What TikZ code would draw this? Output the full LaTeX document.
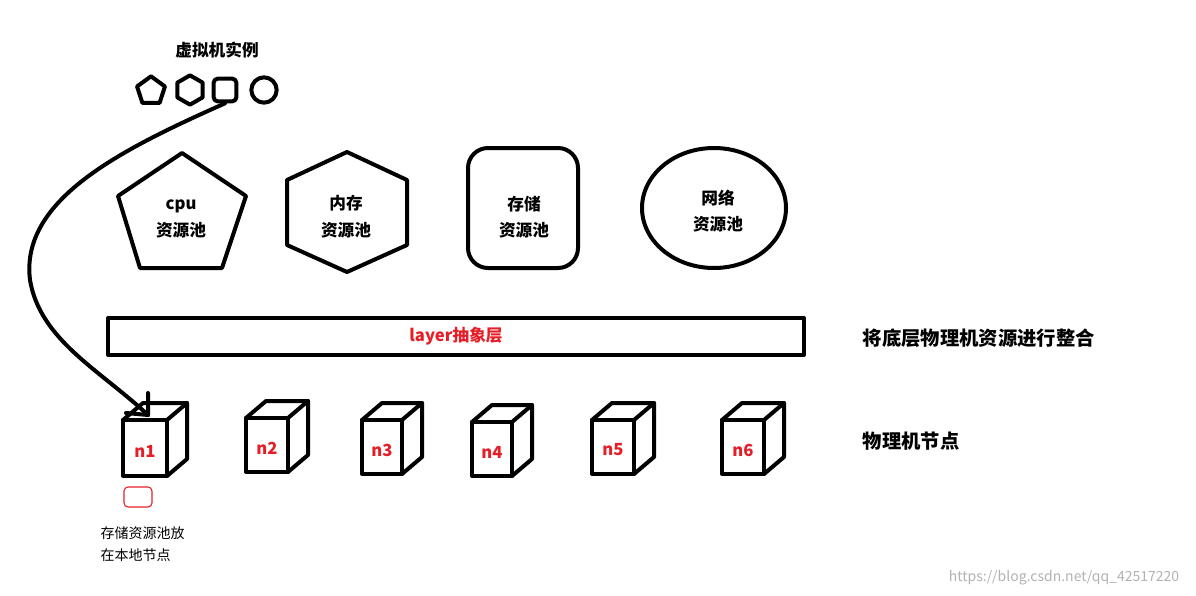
\documentclass[tikz,border=0pt]{standalone}
\usepackage{fontspec}
\setmainfont{Noto Sans CJK SC}
\usetikzlibrary{shapes.geometric,arrows.meta}
\definecolor{lbl}{RGB}{230,30,40}
\tikzset{
  thk/.style={line width=3pt,line join=round,line cap=round},
  bt/.style={font=\bfseries\fontsize{12.5}{14}\selectfont,align=center},
  nl/.style={font=\bfseries\fontsize{12.5}{14}\selectfont,text=lbl},
}
\newcommand{\cube}[5]{% name, left, top, w, h
  \draw[thk] (#2,#3) rectangle ++(#4,#5);
  \draw[thk] (#2,#3) -- ++(20,-17) -- ++(#4,0) -- ++(0,#5) -- ++(-20,17);
  \draw[thk] (#2+#4,#3) -- ++(20,-17);
  \node[nl] (#1) at (#2+#4/2,#3+#5/2+3) {#1};
}
\begin{document}
\begin{tikzpicture}[x=0.75pt,y=-0.75pt]
\useasboundingbox (0,0) rectangle (1196,596);
\node[bt] (vmt) at (217,50) {虚拟机实例};
\node[draw,thk,regular polygon,regular polygon sides=5,minimum size=22,inner sep=0] (ip) at (151,91) {};
\node[draw,thk,regular polygon,regular polygon sides=6,shape border rotate=30,minimum size=22,inner sep=0] (ih) at (190,90) {};
\node[draw,thk,rounded corners=3,minimum size=17,inner sep=0] (is) at (225,90) {};
\node[draw,thk,circle,minimum size=19,inner sep=0] (ic) at (264,90) {};
% pools
\draw[thk] (182,153) -- (246,196) -- (222,268) -- (140,268) -- (118,196) -- cycle;
\node[bt] (cpu) at (181,219) {cpu\\[6pt]资源池};
\draw[thk] (347,152) -- (407,180) -- (407,245) -- (347,272) -- (287,245) -- (287,180) -- cycle;
\node[bt] (mem) at (346,217) {内存\\[6pt]资源池};
\draw[thk,rounded corners=15] (468,148) rectangle (578,268);
\node[bt] (sto) at (524,217) {存储\\[6pt]资源池};
\draw[thk] (714,208) ellipse [x radius=72,y radius=60];
\node[bt] (net) at (718,211) {网络\\[6pt]资源池};
% layer
\draw[thk] (108,318) rectangle (804,355);
\node[bt,text=lbl] (layer) at (456,336) {layer抽象层};
\node[bt,anchor=west,font=\bfseries\fontsize{14.5}{16}\selectfont] (r1) at (858,338) {将底层物理机资源进行整合};
\node[bt,anchor=west,font=\bfseries\fontsize{14.5}{16}\selectfont] (r2) at (858,441) {物理机节点};
% cubes
\cube{n1}{123}{420}{44}{56}
\cube{n2}{246}{418}{42}{54}
\cube{n3}{362}{420}{40}{54}
\cube{n4}{472}{422}{40}{54}
\cube{n5}{592}{420}{42}{54}
\cube{n6}{722}{420}{42}{54}
% arrow
\coordinate (tip) at (148,415);
\draw[thk] (is.south) .. controls (120,150) and (20,200) .. (30,280) .. controls (40,340) and (100,370) .. (tip);
\draw[thk] (148,393) -- (tip) -- (126,413);
\draw[lbl,rounded corners=3,line width=0.8pt] (124,487) rectangle (152,507);
\node[anchor=west,font=\fontsize{10.5}{13}\selectfont,align=left] (note) at (96,544) {存储资源池放\\[4pt]在本地节点};
\node[text=gray!60,font=\fontsize{10.5}{12}\selectfont] (wm) at (1064,578) {https://blog.csdn.net/qq\_42517220};
\end{tikzpicture}
\end{document}
